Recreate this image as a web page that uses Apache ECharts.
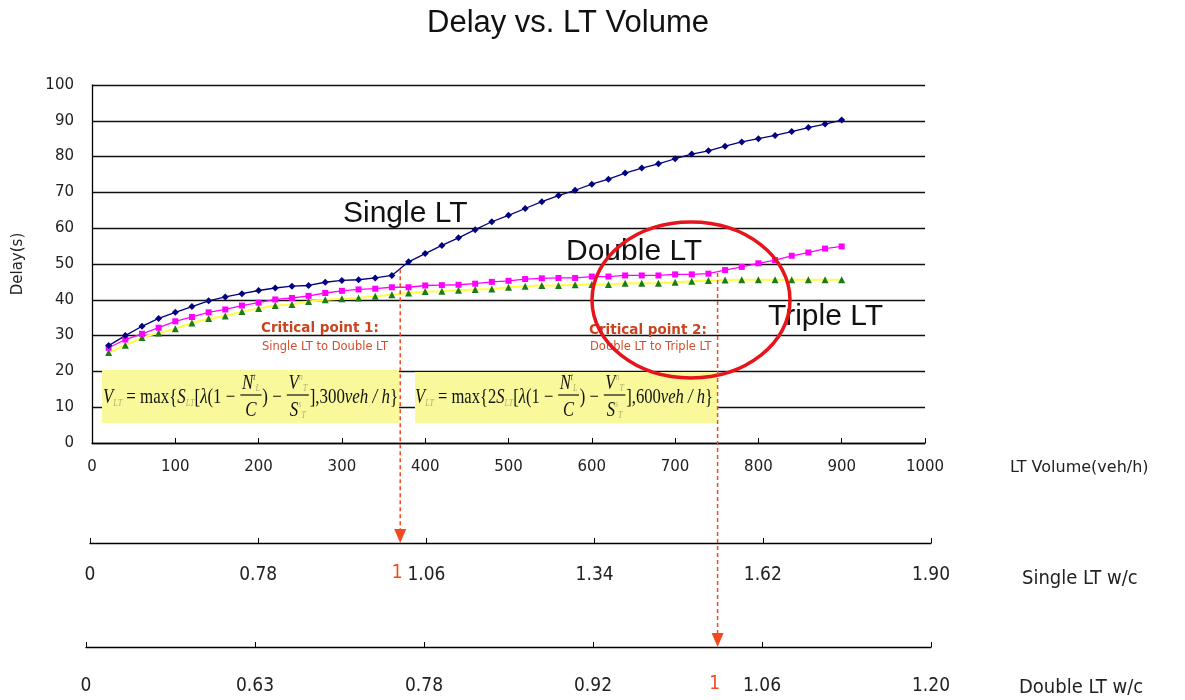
<!DOCTYPE html>
<html>
<head>
<meta charset="utf-8">
<script src="https://cdn.jsdelivr.net/npm/echarts@6/dist/echarts.min.js"></script>
<style>
html,body{margin:0;padding:0;background:#fff;}
#main{width:1185px;height:700px;}
</style>
</head>
<body>
<div id="main"></div>
<script>
// ---------------- DATA ----------------
const volumes = [20,40,60,80,100,120,140,160,180,200,220,240,260,280,300,320,340,360,380,400,
  420,440,460,480,500,520,540,560,580,600,620,640,660,680,700,720,740,760,780,800,820,840,860,880,900];
const singleLT = [27.2,30.0,32.6,34.8,36.5,38.1,39.7,40.8,41.7,42.6,43.3,43.8,44.0,44.9,45.4,45.6,46.1,46.8,50.6,52.9,
  55.2,57.3,59.6,61.8,63.6,65.5,67.4,69.1,70.6,72.3,73.7,75.4,76.8,78.0,79.4,80.7,81.6,82.9,84.1,85.0,85.9,87.0,88.1,89.1,90.2];
const doubleLT = [26.6,28.9,30.5,32.2,34.0,35.2,36.5,37.3,38.4,39.2,40.1,40.5,41.1,41.9,42.5,42.9,43.1,43.5,43.5,44.0,
  44.1,44.2,44.5,45.0,45.3,45.8,46.0,46.1,46.1,46.5,46.5,46.8,46.8,46.8,47.1,47.1,47.3,48.3,49.2,50.2,51.1,52.3,53.2,54.3,54.9];
const tripleLT = [25.3,27.3,29.5,30.7,31.9,33.5,34.8,35.5,36.7,37.6,38.4,38.7,39.5,40.0,40.3,40.5,41.0,41.4,41.9,42.3,
  42.4,42.7,42.9,43.0,43.5,43.8,44.0,44.0,44.2,44.3,44.3,44.6,44.6,44.6,44.9,45.2,45.4,45.5,45.6,45.6,45.6,45.6,45.6,45.6,45.6];
const singleWcLabels = ['0','0.78','1.06','1.34','1.62','1.90'];
const doubleWcLabels = ['0','0.63','0.78','0.92','1.06','1.20'];
const axisTitles = ['LT Volume(veh/h)', 'Single LT w/c', 'Double LT w/c'];
const criticalVolumes = [370, 751];       // veh/h where w/c = 1
const criticalDelays = [48.5, 47.5];      // where the dashed arrows start

// ---------------- STYLE ----------------
const TICK_FONT = "'DejaVu Sans', sans-serif";
const NARROW = "'Liberation Sans Narrow', 'DejaVu Sans Condensed', 'Liberation Sans', sans-serif";
const RED = '#F24A1E';

const pairs = (vals) => volumes.map((v, i) => [v, vals[i]]);

const chart = echarts.init(document.getElementById('main'), null, {renderer: 'canvas'});

const gridBase = {containLabel: false, outerBoundsMode: 'none'};
const option = {
  animation: false,
  backgroundColor: '#ffffff',
  title: {
    text: 'Delay vs. LT Volume',
    left: 422,
    top: 3,
    textStyle: {fontFamily: "'Liberation Sans', Arial, sans-serif", fontSize: 31, fontWeight: 'normal', color: '#111'}
  },
  grid: [
    Object.assign({left: 92, top: 85, width: 833, height: 358}, gridBase),
    Object.assign({left: 90, top: 542, width: 841, height: 1}, gridBase),
    Object.assign({left: 86, top: 646, width: 845, height: 1}, gridBase)
  ],
  xAxis: [
    {
      gridIndex: 0, type: 'value', min: 0, max: 1000, interval: 100,
      axisLine: {show: true, lineStyle: {color: '#000', width: 1.3}},
      axisTick: {show: true, inside: true, length: 5, lineStyle: {color: '#000'}},
      axisLabel: {margin: 17, fontFamily: TICK_FONT, fontSize: 15, color: '#222', formatter: (v) => String(v)},
      splitLine: {show: false}
    },
    {
      gridIndex: 1, type: 'value', min: 0, max: 1000, interval: 200,
      axisLine: {show: true, lineStyle: {color: '#000', width: 1.3}},
      axisTick: {show: true, inside: true, length: 5, lineStyle: {color: '#000'}},
      axisLabel: {margin: 23, fontFamily: NARROW, fontSize: 19, color: '#222',
        formatter: (v) => singleWcLabels[Math.round(v / 200)]},
      splitLine: {show: false}
    },
    {
      gridIndex: 2, type: 'value', min: 0, max: 1000, interval: 200,
      axisLine: {show: true, lineStyle: {color: '#000', width: 1.3}},
      axisTick: {show: true, inside: true, length: 5, lineStyle: {color: '#000'}},
      axisLabel: {margin: 30, fontFamily: NARROW, fontSize: 19, color: '#222',
        formatter: (v) => doubleWcLabels[Math.round(v / 200)]},
      splitLine: {show: false}
    }
  ],
  yAxis: [
    {
      gridIndex: 0, type: 'value', min: 0, max: 100, interval: 10,
      name: 'Delay(s)', nameLocation: 'middle', nameGap: 66, nameRotate: 90,
      nameTextStyle: {fontFamily: TICK_FONT, fontSize: 15, color: '#222'},
      axisLine: {show: true, lineStyle: {color: '#000', width: 1.3}},
      axisTick: {show: false},
      axisLabel: {margin: 18, fontFamily: TICK_FONT, fontSize: 15, color: '#222'},
      splitLine: {show: true, lineStyle: {color: '#111', width: 1.3}}
    },
    {gridIndex: 1, type: 'value', min: 0, max: 1, show: false},
    {gridIndex: 2, type: 'value', min: 0, max: 1, show: false}
  ],
  series: [
    {
      name: 'Triple LT', type: 'line', xAxisIndex: 0, yAxisIndex: 0,
      data: pairs(tripleLT), symbol: 'triangle', symbolSize: 7,
      lineStyle: {color: '#FFFF40', width: 2},
      itemStyle: {color: '#1C7A1C', borderWidth: 0}
    },
    {
      name: 'Double LT', type: 'line', xAxisIndex: 0, yAxisIndex: 0,
      data: pairs(doubleLT), symbol: 'rect', symbolSize: 6,
      lineStyle: {color: '#FF00FF', width: 1.3},
      itemStyle: {color: '#FF00FF', borderWidth: 0}
    },
    {
      name: 'Single LT', type: 'line', xAxisIndex: 0, yAxisIndex: 0,
      data: pairs(singleLT), symbol: 'diamond', symbolSize: 7,
      lineStyle: {color: '#000080', width: 1.3},
      itemStyle: {color: '#000080', borderWidth: 0}
    }
  ]
};
chart.setOption(option);

// ---------------- ANNOTATIONS ----------------
const measureCtx = document.createElement('canvas').getContext('2d');
function tw(t, f) { measureCtx.font = f; return measureCtx.measureText(t).width; }

const SERIF = '"Liberation Serif", "Times New Roman", serif';
const FI = 'italic 21px ' + SERIF;
const FR = '21px ' + SERIF;
const FS = 'italic 10px ' + SERIF;
const SUBC = '#b8b070';

function textEl(x, y, t, f, c, align) {
  return {type: 'text', x: x, y: y, z: 100,
    style: {text: t, font: f, fill: c || '#111', align: align || 'left', verticalAlign: 'middle',
      textAlign: align || 'left', textVerticalAlign: 'middle'}};
}
function runPieces(list, x0, y0, out) {
  let x = x0;
  list.forEach(p => { out.push(textEl(x, y0 + (p.dy || 0), p.t, p.f, p.c)); x += tw(p.t, p.f); });
  return x - x0;
}
function runWidth(list) { return list.reduce((s, p) => s + tw(p.t, p.f), 0); }

function formula(pieces, left, right, cy) {
  const children = [];
  let x = 0;
  pieces.forEach(p => {
    if (p.num) {
      const wn = runWidth(p.num), wd = runWidth(p.den);
      const w = Math.max(wn, wd) + 6;
      runPieces(p.num, x + (w - wn) / 2, -14, children);
      runPieces(p.den, x + (w - wd) / 2, 13, children);
      children.push({type: 'line', z: 100, shape: {x1: x + 1, y1: -2, x2: x + w - 1, y2: -2}, style: {stroke: '#111', lineWidth: 1.2}});
      x += w;
    } else {
      x += runPieces([p], x, 0, children);
    }
  });
  return {type: 'group', x: left, y: cy, scaleX: (right - left) / x, scaleY: 1, z: 100, children: children};
}
function formulaPieces(prefix, bound) {
  return [
    {t: 'V', f: FI}, {t: 'LT', f: FS, dy: 6, c: SUBC},
    {t: ' = max{' + prefix, f: FR},
    {t: 'S', f: FI}, {t: 'LT', f: FS, dy: 6, c: SUBC},
    {t: '[', f: FR}, {t: 'λ', f: FI}, {t: '(1 − ', f: FR},
    {num: [{t: 'N', f: FI}, {t: 't', f: FS, dy: -6, c: '#555'}, {t: 'L', f: FS, dy: 5, c: SUBC}], den: [{t: 'C', f: FI}]},
    {t: ') − ', f: FR},
    {num: [{t: 'V', f: FI}, {t: 'n', f: FS, dy: -6, c: SUBC}, {t: 'T', f: FS, dy: 5, c: SUBC}],
     den: [{t: 'S', f: FI}, {t: 's', f: FS, dy: -6, c: SUBC}, {t: 'T', f: FS, dy: 5, c: SUBC}]},
    {t: '],' + bound, f: FR}, {t: 'veh / h', f: FI}, {t: '}', f: FR}
  ];
}

const graphics = [];
// yellow formula boxes
graphics.push({type: 'rect', z: 90, shape: {x: 102, y: 370, width: 297, height: 53}, style: {fill: '#F9F99B'}});
graphics.push({type: 'rect', z: 90, shape: {x: 415, y: 372, width: 302, height: 51}, style: {fill: '#F9F99B'}});
graphics.push(formula(formulaPieces('', '300'), 103, 398, 397));
graphics.push(formula(formulaPieces('2', '600'), 415, 713, 397));

// axis titles (right side, at label level)
graphics.push(textEl(1010, 468, axisTitles[0], "16px 'DejaVu Sans', sans-serif", '#222'));
graphics.push(textEl(1022, 579, axisTitles[1], "20px " + NARROW, '#222'));
graphics.push(textEl(1019, 688, axisTitles[2], "20px " + NARROW, '#222'));

// series labels
const BIG = "30px 'Liberation Sans', Arial, sans-serif";
graphics.push(textEl(343, 214, 'Single LT', BIG, '#111'));
graphics.push(textEl(566, 252, 'Double LT', BIG, '#111'));
graphics.push(textEl(768, 317, 'Triple LT', BIG, '#111'));

// critical point texts
const CPB = "bold 13.5px 'DejaVu Sans', sans-serif";
const CPS = "11.5px 'DejaVu Sans', sans-serif";
graphics.push(textEl(261, 328, 'Critical point 1:', CPB, '#C8441F'));
graphics.push(textEl(262, 347, 'Single LT to Double LT', CPS, '#D24E2A'));
graphics.push(textEl(589, 330, 'Critical point 2:', CPB, '#C8441F'));
graphics.push(textEl(590, 347, 'Double LT to Triple LT', CPS, '#D24E2A'));

// dashed arrows from critical points down to the w/c axes
const axisIdx = [1, 2];
const redOneOffset = [30, 37];
criticalVolumes.forEach((vol, i) => {
  const top = chart.convertToPixel({xAxisIndex: 0, yAxisIndex: 0}, [vol, criticalDelays[i]]);
  const bot = chart.convertToPixel({xAxisIndex: axisIdx[i], yAxisIndex: axisIdx[i]}, [vol, 0]);
  const x = top[0], y0 = top[1], y1 = bot[1];
  graphics.push({type: 'line', z: 110, shape: {x1: x, y1: y0, x2: x, y2: y1 - 12},
    style: {stroke: RED, lineWidth: 1.5, lineDash: [4, 3]}});
  graphics.push({type: 'polygon', z: 110, shape: {points: [[x - 6, y1 - 14], [x + 6, y1 - 14], [x, y1]]},
    style: {fill: RED}});
  graphics.push({type: 'text', z: 110, x: x - 3, y: y1 + redOneOffset[i],
    style: {text: '1', font: "19px " + NARROW, fill: RED, align: 'center', verticalAlign: 'middle', textAlign: 'center', textVerticalAlign: 'middle'}});
});

// red ellipse highlighting critical point 2
graphics.push({type: 'ellipse', z: 105, shape: {cx: 691, cy: 300, rx: 99, ry: 78},
  style: {fill: null, stroke: '#E8141C', lineWidth: 3.5}});

chart.setOption({graphic: graphics});
</script>
</body>
</html>
